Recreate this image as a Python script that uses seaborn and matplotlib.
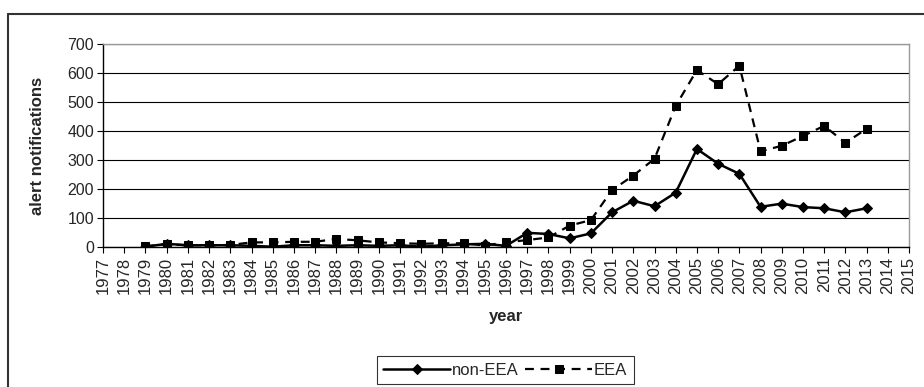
import numpy as np
import pandas as pd
import seaborn as sns
import matplotlib.pyplot as plt
from matplotlib.lines import Line2D

# values
years = list(range(1979, 2014))
non_eea = [0, 10, 5, 5, 5, 3, 0, 5, 5, 3, 5, 3, 5, 0, 5, 8, 10, 3,
           48, 44, 29, 46, 119, 159, 140, 187, 338, 287, 252, 138, 149, 137, 133, 119, 133]
eea = [2, 8, 5, 5, 6, 15, 15, 17, 17, 27, 22, 15, 12, 10, 12, 12, 4, 15,
       23, 32, 73, 92, 196, 246, 304, 487, 611, 562, 626, 330, 349, 383, 418, 359, 408]
axis_years = list(range(1977, 2016))

df = pd.DataFrame({'year': years, 'non-EEA': non_eea, 'EEA': eea})

sns.set_style('white')
plt.rcParams['font.family'] = ['Liberation Sans', 'DejaVu Sans']

fig = plt.figure(figsize=(9.24, 3.87), dpi=100)
ax = fig.add_axes([0.1115, 0.3625, 0.8723, 0.523])

sns.lineplot(data=df, x='year', y='non-EEA', ax=ax, color='black', linewidth=1.8,
             marker='D', markersize=5.5, markeredgecolor='black', label='non-EEA')
sns.lineplot(data=df, x='year', y='EEA', ax=ax, color='black', linewidth=1.6,
             linestyle=(0, (4, 3)), marker='s', markersize=6, markeredgecolor='black', label='EEA')

ax.set_xlim(1977, 2015)
ax.set_ylim(0, 700)
ax.set_xticks(axis_years)
ax.set_xticklabels([str(y) for y in axis_years], rotation=90, fontsize=12)
ax.set_yticks(range(0, 701, 100))
ax.tick_params(axis='y', labelsize=11.5, length=4.5, width=0.8, color='black',
               direction='out', left=True, pad=2)
ax.tick_params(axis='x', length=4, width=0.8, color='black', direction='out', bottom=True, pad=3)
ax.yaxis.grid(True, color='black', linewidth=0.8)
ax.set_axisbelow(True)

for side in ['left', 'bottom']:
    ax.spines[side].set_color('black')
    ax.spines[side].set_linewidth(1)
for side in ['top', 'right']:
    ax.spines[side].set_color('#999999')
    ax.spines[side].set_linewidth(1)

ax.set_xlabel('year', fontsize=12, fontweight='bold')
ax.xaxis.set_label_coords(0.5, -0.31)
ax.set_ylabel('alert notifications', fontsize=12, fontweight='bold')
ax.yaxis.set_label_coords(-0.072, 0.5)

leg = ax.legend(loc='center', bbox_to_anchor=(0.499, -0.61), ncol=2, frameon=True, fancybox=False,
                edgecolor='black', fontsize=12, handlelength=4.0, columnspacing=0.4,
                handletextpad=0.1, borderpad=0.4)
leg.get_frame().set_linewidth(0.8)

# chart area border (only top and left are inside the crop)
fig.add_artist(Line2D([0.009, 1.0], [0.965, 0.965], transform=fig.transFigure,
                      color='#333333', linewidth=1.5))
fig.add_artist(Line2D([0.009, 0.009], [0.0, 0.965], transform=fig.transFigure,
                      color='#333333', linewidth=1.5))

fig.savefig('out.png', dpi=100)
